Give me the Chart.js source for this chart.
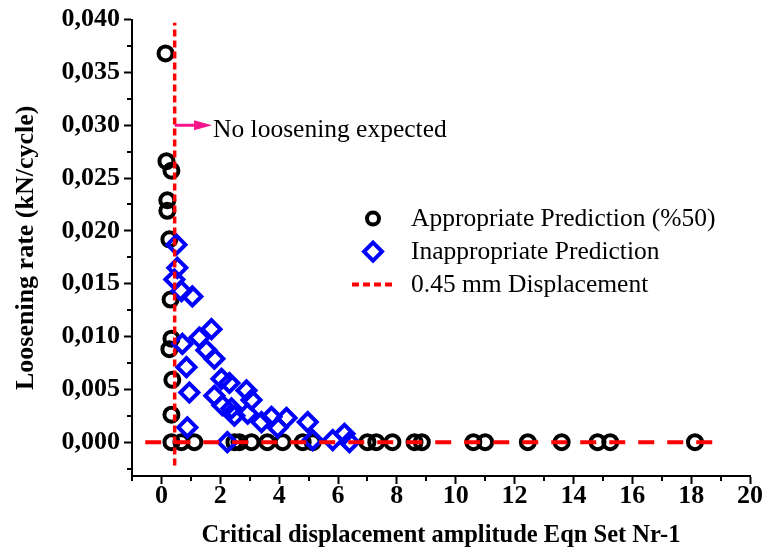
<!DOCTYPE html>
<html>
<head>
<meta charset="utf-8">
<script src="https://cdn.jsdelivr.net/npm/chart.js@4/dist/chart.umd.min.js"></script>
<style>
html,body{margin:0;padding:0;background:#fff;}
#wrap{width:766px;height:559px;position:relative;}
</style>
</head>
<body>
<div id="wrap"><canvas id="c" width="766" height="559"></canvas></div>
<script>
// ---- data ----
const appropriateX = [0.14, 0.17, 0.34, 0.20, 0.20, 0.27, 0.31, 0.34, 0.27, 0.37, 0.34,
  0.34, 0.68, 1.12, 2.48, 2.65, 3.06, 3.6, 4.12, 4.8, 5.14,
  7.0, 7.3, 7.85, 8.6, 8.85, 10.6, 11.0, 12.45, 13.6, 14.82, 15.25, 18.13];
const appropriateY = [0.0368, 0.0266, 0.0257, 0.0229, 0.0219, 0.0192, 0.0135, 0.0098, 0.0088, 0.0059, 0.0026,
  0, 0, 0, 0, 0, 0, 0, 0, 0, 0,
  0, 0, 0, 0, 0, 0, 0, 0, 0, 0, 0, 0];
const inappropriateX = [0.51, 0.54, 0.44, 0.68, 1.05, 1.70, 1.29, 0.71, 1.53, 1.80, 0.85, 0.95, 0.88,
  2.04, 2.31, 2.89, 1.80, 2.07, 2.38, 2.48, 3.06, 2.93, 3.40, 3.74, 3.95, 4.25, 4.97, 5.14, 5.82, 6.22, 6.39, 2.24];
const inappropriateY = [0.0187, 0.0165, 0.0154, 0.0143, 0.0138, 0.0107, 0.0099, 0.0093, 0.0087, 0.0079, 0.0071, 0.0047, 0.0014,
  0.0060, 0.0056, 0.0049, 0.0044, 0.0035, 0.0032, 0.0025, 0.0040, 0.0027, 0.0019, 0.0024, 0.0014, 0.0023, 0.0019, 0.0002, 0.0002, 0.0008, 0.0000, 0.0000];
const thresholdX = [0.45, 0.45];
const thresholdY = [-0.0022, 0.0397];
const zeroLineX = [-0.55, 19];
const zeroLineY = [0, 0];
const xTickValues = [0, 2, 4, 6, 8, 10, 12, 14, 16, 18, 20];
const xMinorTickValues = [-1, 1, 3, 5, 7, 9, 11, 13, 15, 17, 19];
const yTickValues = [0, 0.005, 0.010, 0.015, 0.020, 0.025, 0.030, 0.035, 0.040];
const yMinorTickValues = [-0.0025, 0.0025, 0.0075, 0.0125, 0.0175, 0.0225, 0.0275, 0.0325, 0.0375];
const seriesNames = ['Appropriate Prediction (%50)', 'Inappropriate Prediction', '0.45 mm Displacement'];
const xTitle = 'Critical displacement amplitude Eqn Set Nr-1';
const yTitle = 'Loosening rate (kN/cycle)';
const annotationText = 'No loosening expected';
const arrowFrom = [0.45, 0.030];
const arrowTo = [1.72, 0.030];

const toPts = (xs, ys) => xs.map((x, i) => ({x: x, y: ys[i]}));
const SERIF = '"Liberation Serif", "Times New Roman", serif';
const RED = '#ff0000';
const PINK = '#f5148c';

const minorTicks = {
  id: 'minorTicks',
  afterDraw(chart) {
    const ctx = chart.ctx;
    const xs = chart.scales.x, ys = chart.scales.y;
    const ca = chart.chartArea;
    ctx.save();
    ctx.strokeStyle = '#000';
    ctx.lineWidth = 2;
    ctx.beginPath();
    xMinorTickValues.forEach(v => {
      const px = Math.round(xs.getPixelForValue(v));
      ctx.moveTo(px, ca.bottom);
      ctx.lineTo(px, ca.bottom + 5);
    });
    yMinorTickValues.forEach(v => {
      const py = Math.round(ys.getPixelForValue(v));
      ctx.moveTo(ca.left, py);
      ctx.lineTo(ca.left - 5, py);
    });
    ctx.stroke();

    // arrow annotation
    const ax0 = xs.getPixelForValue(arrowFrom[0]);
    const ay = ys.getPixelForValue(arrowFrom[1]);
    const ax1 = xs.getPixelForValue(arrowTo[0]);
    ctx.strokeStyle = PINK;
    ctx.fillStyle = PINK;
    ctx.lineWidth = 3;
    ctx.beginPath();
    ctx.moveTo(ax0, ay);
    ctx.lineTo(ax1 - 14, ay);
    ctx.stroke();
    ctx.beginPath();
    ctx.moveTo(ax1, ay);
    ctx.lineTo(ax1 - 18, ay - 5);
    ctx.lineTo(ax1 - 18, ay + 5);
    ctx.closePath();
    ctx.fill();
    ctx.fillStyle = '#000';
    ctx.font = '25.5px ' + SERIF;
    ctx.textBaseline = 'middle';
    ctx.textAlign = 'left';
    ctx.fillText(annotationText, ax1 + 1, ay + 5);

    // legend
    const lx = ca.left + 241;
    const ly = ca.top + 199;
    const gap = 33;
    ctx.font = '25.5px ' + SERIF;
    // circle
    ctx.strokeStyle = '#000';
    ctx.lineWidth = 4;
    ctx.beginPath();
    ctx.arc(lx, ly, 6, 0, Math.PI * 2);
    ctx.stroke();
    ctx.fillStyle = '#000';
    ctx.fillText(seriesNames[0], lx + 38, ly + 1);
    // diamond
    const dy = ly + gap;
    ctx.strokeStyle = '#0000ff';
    ctx.lineWidth = 4;
    ctx.beginPath();
    ctx.moveTo(lx - 9, dy);
    ctx.lineTo(lx, dy - 9);
    ctx.lineTo(lx + 9, dy);
    ctx.lineTo(lx, dy + 9);
    ctx.closePath();
    ctx.stroke();
    ctx.fillText(seriesNames[1], lx + 38, dy + 1);
    // dotted line
    const ry = ly + gap * 2;
    ctx.strokeStyle = RED;
    ctx.lineWidth = 4;
    ctx.setLineDash([7, 4]);
    ctx.beginPath();
    ctx.moveTo(lx - 21, ry);
    ctx.lineTo(lx + 23, ry);
    ctx.stroke();
    ctx.setLineDash([]);
    ctx.fillText(seriesNames[2], lx + 38, ry + 1);
    ctx.restore();
  }
};

new Chart(document.getElementById('c'), {
  type: 'scatter',
  data: {
    datasets: [
      {
        label: seriesNames[0],
        data: toPts(appropriateX, appropriateY),
        pointStyle: 'circle',
        pointRadius: 7,
        pointBorderWidth: 4,
        borderColor: '#000',
        backgroundColor: 'rgba(0,0,0,0)',
        order: 3
      },
      {
        label: seriesNames[1],
        data: toPts(inappropriateX, inappropriateY),
        pointStyle: 'rectRot',
        pointRadius: 9,
        pointBorderWidth: 4,
        borderColor: '#0000ff',
        backgroundColor: 'rgba(0,0,0,0)',
        order: 2
      },
      {
        label: seriesNames[2],
        data: toPts(thresholdX, thresholdY),
        showLine: true,
        borderColor: RED,
        borderWidth: 3.5,
        borderDash: [7, 4],
        pointRadius: 0,
        order: 1
      },
      {
        label: 'zero',
        data: toPts(zeroLineX, zeroLineY),
        showLine: true,
        borderColor: RED,
        borderWidth: 4,
        borderDash: [16, 13],
        pointRadius: 0,
        order: 0
      }
    ]
  },
  options: {
    responsive: false,
    animation: false,
    devicePixelRatio: 1,
    layout: {padding: {top: 17, right: 16, left: 0, bottom: 0}},
    plugins: {legend: {display: false}, tooltip: {enabled: false}},
    scales: {
      x: {
        type: 'linear',
        min: -1,
        max: 20,
        afterBuildTicks: s => { s.ticks = xTickValues.map(v => ({value: v})); },
        afterFit: s => { s.height = 83; },
        ticks: {
          color: '#000',
          font: {family: SERIF, size: 26, weight: 'bold'},
          padding: -3,
          maxRotation: 0,
          autoSkip: false,
          callback: v => String(v)
        },
        grid: {drawOnChartArea: false, drawTicks: true, tickLength: 8, tickWidth: 2, tickColor: '#000'},
        border: {display: true, color: '#000', width: 2},
        title: {display: true, text: xTitle, color: '#000', font: {family: SERIF, size: 24.5, weight: 'bold'}, padding: {top: 0, bottom: 9}}
      },
      y: {
        type: 'linear',
        min: -0.0032,
        max: 0.040,
        afterBuildTicks: s => { s.ticks = yTickValues.map(v => ({value: v})); },
        afterFit: s => { s.width = 132; },
        ticks: {
          color: '#000',
          font: {family: SERIF, size: 26, weight: 'bold'},
          padding: 4,
          autoSkip: false,
          callback: v => Number(v).toFixed(3).replace('.', ',')
        },
        grid: {drawOnChartArea: false, drawTicks: true, tickLength: 8, tickWidth: 2, tickColor: '#000'},
        border: {display: true, color: '#000', width: 2},
        title: {display: true, text: yTitle, color: '#000', font: {family: SERIF, size: 26, weight: 'bold'}, padding: {top: 11, bottom: 0}}
      }
    }
  },
  plugins: [minorTicks]
});
</script>
</body>
</html>
